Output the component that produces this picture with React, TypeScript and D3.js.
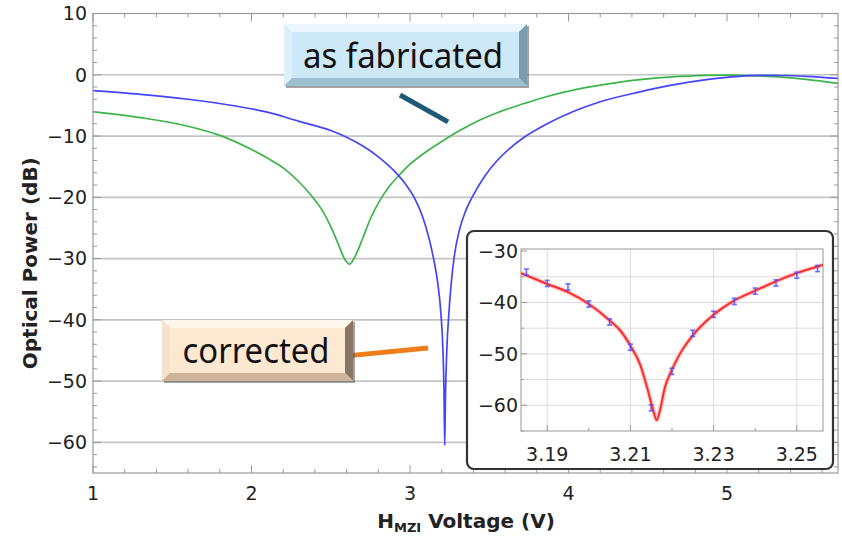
import React from "react";
import * as d3 from "d3";

// main plot: blue curve (corrected)
const blueV = [1.0, 1.3, 1.6, 1.9, 2.1, 2.3, 2.4, 2.5, 2.6, 2.7, 2.8, 2.9, 2.97, 3.03, 3.08, 3.12, 3.15, 3.175, 3.195, 3.207, 3.214, 3.219, 3.224, 3.232, 3.245, 3.26, 3.28, 3.31, 3.35, 3.4, 3.47, 3.55, 3.63, 3.72, 3.85, 4.03, 4.2, 4.45, 4.65, 4.87, 5.05, 5.2, 5.35, 5.5, 5.7];
const blueDb = [-2.6, -3.2, -4.0, -5.1, -6.1, -7.6, -8.3, -9.1, -10.2, -11.6, -13.4, -15.7, -17.8, -20.2, -23.2, -26.7, -30.2, -34.0, -39.0, -44.5, -51.0, -60.5, -52.0, -45.0, -39.0, -34.0, -29.5, -25.5, -22.3, -19.6, -16.6, -14.0, -12.0, -10.2, -8.2, -6.0, -4.4, -2.8, -1.7, -0.8, -0.3, -0.1, -0.12, -0.25, -0.6];

// main plot: green curve (as fabricated)
const greenV = [1.0, 1.3, 1.6, 1.8, 2.0, 2.1, 2.2, 2.3, 2.38, 2.45, 2.5, 2.55, 2.59, 2.62, 2.65, 2.7, 2.75, 2.81, 2.87, 2.935, 3.0, 3.1, 3.2, 3.3, 3.4, 3.55, 3.72, 3.87, 4.03, 4.25, 4.45, 4.65, 4.87, 5.0, 5.2, 5.35, 5.5, 5.7];
const greenDb = [-6.0, -7.0, -8.4, -9.9, -12.2, -13.6, -15.2, -17.5, -19.8, -22.3, -24.8, -27.8, -30.2, -30.9, -29.8, -26.8, -23.5, -20.5, -18.2, -16.3, -14.6, -12.6, -10.9, -9.3, -7.9, -6.2, -4.7, -3.5, -2.5, -1.5, -0.8, -0.35, -0.1, -0.05, -0.2, -0.4, -0.75, -1.4];

// inset: fit curve
const fitV = [3.1837, 3.19, 3.195, 3.2, 3.205, 3.2076, 3.21, 3.2123, 3.214, 3.2155, 3.2163, 3.2171, 3.2183, 3.2199, 3.2219, 3.225, 3.23, 3.235, 3.24, 3.245, 3.25, 3.2563];
const fitDb = [-34.3, -36.4, -38.0, -40.3, -43.5, -45.5, -48.4, -52.0, -56.5, -61.0, -62.9, -61.0, -56.5, -53.2, -50.0, -46.4, -42.4, -39.6, -37.7, -35.9, -34.3, -32.7];

// inset: measured points
const measV = [3.185, 3.19, 3.195, 3.2, 3.205, 3.21, 3.215, 3.22, 3.225, 3.23, 3.235, 3.24, 3.245, 3.25, 3.255];
const measDb = [-34.1, -36.3, -37.0, -40.3, -43.8, -48.7, -60.5, -53.4, -46.0, -42.3, -39.8, -37.8, -36.2, -34.7, -33.4];
const measErr = 0.6;

const mainXTicks = [1, 2, 3, 4, 5];
const mainYTicks = [10, 0, -10, -20, -30, -40, -50, -60];
const insetXTicks = [3.19, 3.21, 3.23, 3.25];
const insetYTicks = [-30, -40, -50, -60];

const tickFont = "DejaVu Sans, sans-serif";

function BevelBox({ x0, y0, x1, y1, face, top, left, right, bottom, text, tx, ty, tlen }) {
  const b = 8;
  return (
    <g>
      <rect x={x0 + 2} y={y0 + 2} width={x1 - x0} height={y1 - y0} fill="#555" opacity={0.55} />
      <rect x={x0} y={y0} width={x1 - x0} height={y1 - y0} fill={face} />
      <polygon points={`${x0},${y0} ${x1},${y0} ${x1 - b},${y0 + b} ${x0 + b},${y0 + b}`} fill={top} />
      <polygon points={`${x0},${y0} ${x0 + b},${y0 + b} ${x0 + b},${y1 - b} ${x0},${y1}`} fill={left} />
      <polygon points={`${x1},${y0} ${x1},${y1} ${x1 - b},${y1 - b} ${x1 - b},${y0 + b}`} fill={right} />
      <polygon points={`${x0},${y1} ${x1},${y1} ${x1 - b},${y1 - b} ${x0 + b},${y1 - b}`} fill={bottom} />
      <text x={tx} y={ty} textAnchor="middle" fontFamily="Noto Sans, sans-serif" fontSize={35}
        textLength={tlen} lengthAdjust="spacingAndGlyphs" fill="#111">{text}</text>
    </g>
  );
}

export default function App() {
  // main scales
  const x = d3.scaleLinear().domain([1, 5.7]).range([93, 838]);
  const y = d3.scaleLinear().domain([-65, 10]).range([473, 13.5]);
  // inset scales
  const ix = d3.scaleLinear().domain([3.1837, 3.2563]).range([521, 823]);
  const iy = d3.scaleLinear().domain([-65, -29.6]).range([431, 249]);

  const [xl, xr] = x.range();
  const [yb, yt] = y.range();
  const [ixl, ixr] = ix.range();
  const [iyb, iyt] = iy.range();

  const blueLine = d3.line<number>().x((d, i) => x(blueV[i])).y(d => y(d)).curve(d3.curveMonotoneX)(blueDb);
  const greenLine = d3.line<number>().x((d, i) => x(greenV[i])).y(d => y(d)).curve(d3.curveMonotoneX)(greenDb);
  const fitLine = d3.line<number>().x((d, i) => ix(fitV[i])).y(d => iy(d)).curve(d3.curveMonotoneX)(fitDb);

  const minorX = d3.range(0, 24).map(i => 1 + i * 0.2).filter(v => v <= 5.7);
  const minorY = d3.range(-64, 10, 2);
  const insetMinorX = d3.range(0, 8).map(i => 3.19 + i * 0.01).filter(v => v < 3.256);
  const insetMinorY = [-35, -45, -55, -65];

  return (
    <svg width={842} height={541} style={{ position: "absolute", left: 0, top: 0, background: "#fff" }}>
      <defs>
        <clipPath id="mainClip"><rect x={xl} y={yt} width={xr - xl} height={yb - yt} /></clipPath>
        <clipPath id="insetClip"><rect x={ixl} y={iyt} width={ixr - ixl} height={iyb - iyt} /></clipPath>
      </defs>

      {/* main grid */}
      {mainYTicks.filter(t => t < 10).map(t => (
        <line key={t} x1={xl} x2={xr} y1={y(t)} y2={y(t)} stroke="#c4c4c4" strokeWidth={1.7} />
      ))}

      {/* curves */}
      <g clipPath="url(#mainClip)">
        <path d={greenLine} fill="none" stroke="#3cb44a" strokeWidth={1.7} />
        <path d={blueLine} fill="none" stroke="#4545f8" strokeWidth={1.7} />
      </g>

      {/* frame + ticks */}
      <rect x={xl} y={yt} width={xr - xl} height={yb - yt} fill="none" stroke="#9a9a9a" strokeWidth={1.2} />
      {minorX.map(v => {
        const len = mainXTicks.includes(Math.round(v * 10) / 10) ? 8 : 4;
        return (
          <g key={v}>
            <line x1={x(v)} x2={x(v)} y1={yb} y2={yb - len} stroke="#9a9a9a" />
            <line x1={x(v)} x2={x(v)} y1={yt} y2={yt + len} stroke="#9a9a9a" />
          </g>
        );
      })}
      {minorY.map(v => {
        const len = v % 10 === 0 ? 8 : 4;
        return (
          <g key={v}>
            <line x1={xl} x2={xl + len} y1={y(v)} y2={y(v)} stroke="#9a9a9a" />
            <line x1={xr} x2={xr - len} y1={y(v)} y2={y(v)} stroke="#9a9a9a" />
          </g>
        );
      })}

      {/* tick labels */}
      {mainXTicks.map(t => (
        <text key={t} x={x(t)} y={500} textAnchor="middle" fontFamily={tickFont} fontSize={19} fill="#222">{t}</text>
      ))}
      {mainYTicks.map(t => (
        <text key={t} x={87} y={y(t)} dy="0.36em" textAnchor="end" fontFamily={tickFont} fontSize={19} fill="#222">
          {t < 0 ? `\u2212${-t}` : t}
        </text>
      ))}

      {/* axis titles */}
      <text x={466} y={528} textAnchor="middle" fontFamily={tickFont} fontWeight="bold" fontSize={20} fill="#222">
        H<tspan fontSize={13} dy={4}>MZI</tspan><tspan dy={-4}> Voltage (V)</tspan>
      </text>
      <text transform={`translate(37,${(yt + yb) / 2 + 20}) rotate(-90)`} textAnchor="middle"
        fontFamily={tickFont} fontWeight="bold" fontSize={20} fill="#222">Optical Power (dB)</text>

      {/* annotations */}
      <line x1={x(2.937)} y1={y(-3.3)} x2={x(3.24)} y2={y(-7.7)} stroke="#1d5878" strokeWidth={5} />
      <BevelBox x0={284} y0={24} x1={527} y1={86} face="#cde8f6" top="#ecf7fd" left="#dcf0fa"
        right="#7a9cae" bottom="#9ebfcf" text="as fabricated" tx={403} ty={68} tlen={200} />

      <line x1={x(2.634)} y1={y(-45.8)} x2={x(3.114)} y2={y(-44.6)} stroke="#ee7d1a" strokeWidth={5} />
      <BevelBox x0={162} y0={320} x1={353} y1={381} face="#fde8d2" top="#fff6ec" left="#f6e2cc"
        right="#8a7664" bottom="#cdb49b" text="corrected" tx={256} ty={363} tlen={147} />

      {/* inset */}
      <rect x={467} y={231} width={366} height={238} rx={7} fill="#fff" stroke="#333" strokeWidth={2.2} />
      {[-35, -40, -45, -50, -55, -60].map(t => (
        <line key={t} x1={ixl} x2={ixr} y1={iy(t)} y2={iy(t)} stroke="#dcdcdc" strokeWidth={1} />
      ))}
      {insetXTicks.map(t => (
        <line key={t} x1={ix(t)} x2={ix(t)} y1={iyt} y2={iyb} stroke="#dcdcdc" strokeWidth={1} />
      ))}
      <rect x={ixl} y={iyt} width={ixr - ixl} height={iyb - iyt} fill="none" stroke="#a8a8a8" strokeWidth={1.2} />
      {insetMinorX.map(v => {
        const len = insetXTicks.some(t => Math.abs(t - v) < 1e-6) ? 6 : 3;
        return <line key={v} x1={ix(v)} x2={ix(v)} y1={iyb} y2={iyb - len} stroke="#999" />;
      })}
      {[...insetYTicks, ...insetMinorY].map(v => {
        const len = v % 10 === 0 ? 6 : 3;
        return <line key={v} x1={ixl} x2={ixl + len} y1={iy(v)} y2={iy(v)} stroke="#999" />;
      })}
      <g clipPath="url(#insetClip)">
        <path d={fitLine} fill="none" stroke="#ff8c8c" strokeWidth={4.5} opacity={0.45} />
        <path d={fitLine} fill="none" stroke="#ff2a2a" strokeWidth={2} />
        {measV.map((v, i) => (
          <g key={v} stroke="#5050ff" strokeWidth={1.6} opacity={0.85}>
            <line x1={ix(v)} x2={ix(v)} y1={iy(measDb[i] - measErr)} y2={iy(measDb[i] + measErr)} />
            <line x1={ix(v) - 2.5} x2={ix(v) + 2.5} y1={iy(measDb[i] - measErr)} y2={iy(measDb[i] - measErr)} />
            <line x1={ix(v) - 2.5} x2={ix(v) + 2.5} y1={iy(measDb[i] + measErr)} y2={iy(measDb[i] + measErr)} />
          </g>
        ))}
      </g>
      {insetXTicks.map(t => (
        <text key={t} x={ix(t)} y={461} textAnchor="middle" fontFamily={tickFont} fontSize={19} fill="#222">{t.toFixed(2)}</text>
      ))}
      {insetYTicks.map(t => (
        <text key={t} x={518} y={iy(t)} dy="0.36em" textAnchor="end" fontFamily={tickFont} fontSize={19} fill="#222">
          {`\u2212${-t}`}
        </text>
      ))}
    </svg>
  );
}
